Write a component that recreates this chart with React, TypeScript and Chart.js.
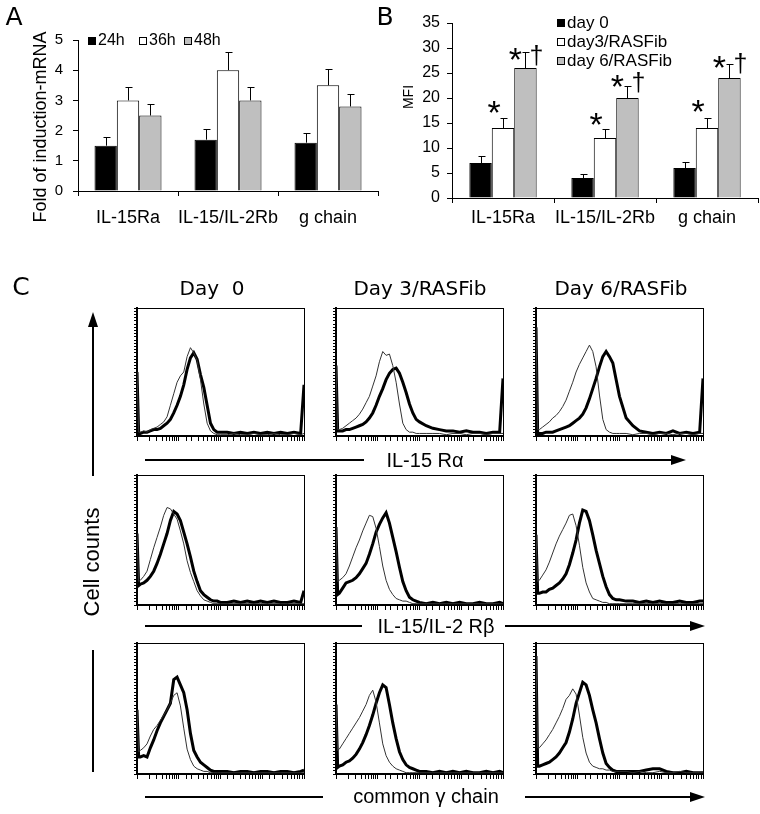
import { useEffect, useRef } from 'react'
import { Chart, registerables } from 'chart.js'

Chart.register(...registerables)

const SANS = '"Liberation Sans", Arial, sans-serif'
const VERDANA = '"DejaVu Sans", Verdana, sans-serif'
Chart.defaults.font.family = SANS
Chart.defaults.color = '#000'

// ---- panel A: fold induction of mRNA ----
const GENES = ['IL-15Ra', 'IL-15/IL-2Rb', 'g chain']
const MRNA_24H = [1.5, 1.7, 1.6]
const MRNA_36H = [3.0, 4.0, 3.5]
const MRNA_48H = [2.5, 3.0, 2.8]
const MRNA_24H_ERR = [0.3, 0.35, 0.33]
const MRNA_36H_ERR = [0.45, 0.6, 0.53]
const MRNA_48H_ERR = [0.38, 0.45, 0.42]

// ---- panel B: MFI ----
const MFI_DAY0 = [7, 4, 6]
const MFI_DAY3 = [14, 12, 14]
const MFI_DAY6 = [26, 20, 24]
const MFI_DAY0_ERR = [1.4, 0.8, 1.2]
const MFI_DAY3_ERR = [2.1, 1.8, 2.1]
const MFI_DAY6_ERR = [3.1, 2.4, 2.9]
// height (MFI units) where the significance marks sit
const STAR_DAY3_AT = [18, 15.6, 18.2]
const STAR_DAY6_AT = [28.6, 23.2, 27]

// ---- panel C: flow histograms (x = % of log axis, y = % of max count) ----
const HIST_X = [0, 1, 2, 4, 6, 8, 10, 12, 14, 16, 18, 20, 22, 24, 26, 28, 30, 32, 34, 36, 38, 40, 42, 44, 46, 48, 50,
  54, 58, 62, 66, 70, 74, 78, 82, 86, 90, 94, 98, 100]

const RA_DAY0_CTRL = [50, 3, 3, 4, 3, 5, 6, 7, 9, 11, 15, 24, 33, 42, 47, 50, 62, 69, 65, 59, 44, 25, 10, 4, 2, 1, 1,
  1, 2, 1, 1, 2, 1, 1, 2, 1, 1, 2, 1, 2]
const RA_DAY0_STAIN = [50, 2, 2, 3, 3, 4, 5, 5, 6, 8, 10, 13, 18, 24, 31, 40, 52, 61, 65, 60, 48, 38, 24, 10, 5, 3, 3,
  3, 2, 3, 2, 3, 2, 3, 2, 3, 2, 3, 2, 40]
const RA_DAY3_CTRL = [55, 5, 5, 6, 8, 10, 12, 14, 17, 21, 26, 31, 39, 47, 58, 66, 63, 64, 55, 42, 25, 10, 5, 3, 3, 2, 2,
  2, 2, 2, 1, 2, 2, 1, 2, 2, 1, 2, 2, 2]
const RA_DAY3_STAIN = [55, 4, 4, 4, 5, 5, 6, 7, 8, 9, 11, 14, 18, 24, 31, 37, 44, 49, 52, 53, 49, 42, 34, 25, 18, 13, 11,
  8, 6, 5, 4, 4, 3, 4, 3, 3, 2, 3, 3, 45]
const RA_DAY6_CTRL = [85, 5, 5, 7, 9, 11, 14, 16, 19, 23, 28, 35, 42, 50, 56, 61, 66, 71, 66, 54, 32, 13, 5, 3, 2, 2, 2,
  2, 1, 2, 2, 1, 2, 2, 1, 2, 2, 1, 2, 2]
const RA_DAY6_STAIN = [85, 2, 2, 2, 3, 3, 3, 4, 5, 6, 7, 8, 10, 12, 14, 17, 22, 29, 37, 45, 54, 62, 66, 62, 57, 44, 31,
  14, 8, 4, 3, 2, 3, 2, 4, 2, 3, 2, 3, 45]

const RB_DAY0_CTRL = [55, 18, 19, 22, 26, 35, 44, 52, 60, 69, 75, 74, 70, 66, 57, 47, 34, 25, 18, 11, 7, 4, 3, 2, 1, 1, 1,
  1, 1, 1, 1, 1, 1, 1, 1, 1, 1, 1, 1, 1]
const RB_DAY0_STAIN = [55, 15, 16, 17, 19, 22, 26, 32, 39, 47, 55, 65, 72, 70, 65, 56, 47, 37, 26, 18, 11, 8, 6, 4, 3, 3, 2,
  2, 3, 2, 3, 2, 3, 2, 3, 2, 2, 3, 2, 11]
const RB_DAY3_CTRL = [60, 18, 19, 21, 24, 30, 37, 44, 50, 57, 63, 69, 68, 59, 45, 30, 19, 12, 8, 5, 4, 3, 3, 2, 1, 1, 1,
  1, 1, 1, 1, 1, 1, 1, 1, 1, 1, 1, 1, 1]
const RB_DAY3_STAIN = [60, 8, 9, 13, 17, 18, 19, 21, 24, 28, 32, 39, 47, 56, 62, 67, 71, 63, 52, 41, 29, 18, 11, 6, 4, 3, 2,
  1, 2, 1, 2, 1, 2, 1, 1, 2, 1, 1, 2, 1]
const RB_DAY6_CTRL = [54, 18, 19, 23, 27, 33, 40, 47, 53, 58, 63, 69, 70, 61, 46, 29, 17, 10, 5, 4, 3, 2, 2, 1, 1, 1, 1,
  1, 1, 1, 1, 1, 1, 1, 1, 1, 1, 1, 1, 1]
const RB_DAY6_STAIN = [54, 9, 9, 10, 10, 12, 13, 15, 17, 20, 24, 31, 40, 50, 63, 73, 72, 65, 54, 42, 32, 22, 14, 8, 5, 4, 4,
  3, 3, 2, 3, 2, 3, 2, 2, 3, 2, 2, 3, 3]

const GC_DAY0_CTRL = [49, 17, 18, 20, 23, 29, 34, 37, 41, 45, 49, 54, 60, 62, 52, 35, 19, 11, 6, 4, 3, 2, 2, 1, 1, 1, 1,
  1, 1, 1, 1, 1, 1, 1, 1, 1, 1, 1, 1, 1]
const GC_DAY0_STAIN = [49, 13, 13, 14, 13, 20, 26, 33, 39, 44, 49, 54, 72, 74, 68, 62, 49, 31, 18, 13, 9, 7, 5, 3, 2, 2, 2,
  2, 1, 2, 2, 1, 2, 2, 1, 2, 2, 1, 2, 3]
const GC_DAY3_CTRL = [53, 18, 19, 23, 27, 31, 35, 39, 43, 48, 53, 60, 64, 55, 39, 23, 14, 9, 6, 4, 3, 2, 1, 1, 1, 1, 1,
  1, 1, 1, 1, 1, 1, 1, 1, 1, 1, 1, 1, 1]
const GC_DAY3_STAIN = [53, 5, 6, 7, 9, 10, 12, 15, 19, 24, 30, 37, 45, 54, 62, 68, 66, 53, 39, 27, 17, 11, 7, 5, 4, 3, 2,
  2, 1, 2, 1, 2, 1, 2, 1, 1, 2, 1, 2, 1]
const GC_DAY6_CTRL = [90, 20, 20, 23, 26, 30, 34, 39, 44, 50, 57, 60, 65, 61, 45, 28, 16, 9, 6, 5, 4, 4, 3, 3, 2, 2, 2,
  2, 1, 2, 1, 1, 2, 1, 1, 2, 1, 1, 1, 1]
const GC_DAY6_STAIN = [90, 6, 6, 7, 8, 9, 11, 13, 16, 20, 24, 32, 42, 54, 62, 70, 68, 60, 49, 39, 27, 16, 8, 5, 3, 2, 2,
  2, 2, 2, 3, 4, 4, 2, 1, 1, 2, 1, 1, 1]

// error bars drawn up from each bar top
const errorBars = {
  id: 'errorBars',
  afterDatasetsDraw(chart: any) {
    const { ctx } = chart
    const y = chart.scales.y
    ctx.save()
    ctx.strokeStyle = '#000'
    ctx.lineWidth = 1
    chart.data.datasets.forEach((ds: any, i: number) => {
      chart.getDatasetMeta(i).data.forEach((bar: any, j: number) => {
        const x = Math.round(bar.x) + 0.5
        const top = Math.round(y.getPixelForValue(ds.data[j] + ds.errors[j])) + 0.5
        ctx.beginPath()
        ctx.moveTo(x, bar.y)
        ctx.lineTo(x, top)
        ctx.moveTo(x - 3, top)
        ctx.lineTo(x + 4, top)
        ctx.stroke()
      })
    })
    ctx.restore()
  },
}

// small square legend placed inside the plot
const boxLegend = {
  id: 'boxLegend',
  afterDraw(chart: any, _args: any, opts: any) {
    if (!opts || !opts.items) return
    const { ctx, chartArea } = chart
    ctx.save()
    ctx.font = opts.font
    ctx.textBaseline = 'middle'
    chart.data.datasets.forEach((ds: any, i: number) => {
      const [dx, dy] = opts.items[i]
      const x = chartArea.left + dx
      const y = chartArea.top + dy
      const s = opts.box
      ctx.fillStyle = ds.backgroundColor
      ctx.fillRect(x, y - s / 2, s, s)
      ctx.strokeStyle = '#000'
      ctx.lineWidth = 1
      ctx.strokeRect(x + 0.5, y - s / 2 + 0.5, s - 1, s - 1)
      ctx.fillStyle = '#000'
      ctx.fillText(ds.label, x + s + 2, y)
    })
    ctx.restore()
  },
}

// * and † over the bars
const sigMarks = {
  id: 'sigMarks',
  afterDatasetsDraw(chart: any, _args: any, opts: any) {
    if (!opts || !opts.marks) return
    const { ctx } = chart
    const y = chart.scales.y
    ctx.save()
    ctx.fillStyle = '#000'
    ctx.textAlign = 'center'
    ctx.textBaseline = 'middle'
    opts.marks.forEach((m: any) => {
      ctx.font = m.font
      chart.getDatasetMeta(m.dataset).data.forEach((bar: any, j: number) => {
        ctx.fillText(m.text, bar.x + m.dx, y.getPixelForValue(m.at[j]) + m.dy)
      })
    })
    ctx.restore()
  },
}

const barDefaults = { borderColor: '#000', borderWidth: 1, barPercentage: 1 }

function mrnaConfig(): any {
  return {
    type: 'bar',
    data: {
      labels: GENES,
      datasets: [
        { label: '24h', data: MRNA_24H, errors: MRNA_24H_ERR, backgroundColor: '#000' },
        { label: '36h', data: MRNA_36H, errors: MRNA_36H_ERR, backgroundColor: '#fff' },
        { label: '48h', data: MRNA_48H, errors: MRNA_48H_ERR, backgroundColor: '#bfbfbf' },
      ],
    },
    options: {
      animation: false,
      responsive: false,
      events: [],
      datasets: { bar: { ...barDefaults, categoryPercentage: 0.67 } },
      layout: { padding: { left: 26, top: 40, right: 2, bottom: 9 } },
      plugins: {
        legend: { display: false },
        tooltip: { enabled: false },
        boxLegend: { font: `16px ${SANS}`, box: 8, items: [[10, 1], [61, 1], [106, 1]] },
      },
      scales: {
        x: {
          grid: { drawOnChartArea: false, tickLength: 5, color: '#000' },
          border: { color: '#000' },
          ticks: { font: { size: 18 }, padding: 11, maxRotation: 0, minRotation: 0, autoSkip: false },
          afterFit: (s: any) => { s.height = 40 },
        },
        y: {
          min: 0,
          max: 5,
          ticks: { stepSize: 1, font: { size: 15 }, padding: 10 },
          grid: { drawOnChartArea: false, tickLength: 5, color: '#000' },
          border: { color: '#000' },
          afterFit: (s: any) => { s.width = 52 },
        },
      },
    },
    plugins: [errorBars, boxLegend],
  }
}

function mfiConfig(): any {
  return {
    type: 'bar',
    data: {
      labels: GENES,
      datasets: [
        { label: 'day 0', data: MFI_DAY0, errors: MFI_DAY0_ERR, backgroundColor: '#000' },
        { label: 'day3/RASFib', data: MFI_DAY3, errors: MFI_DAY3_ERR, backgroundColor: '#fff' },
        { label: 'day 6/RASFib', data: MFI_DAY6, errors: MFI_DAY6_ERR, backgroundColor: '#bfbfbf' },
      ],
    },
    options: {
      animation: false,
      responsive: false,
      events: [],
      datasets: { bar: { ...barDefaults, categoryPercentage: 0.66 } },
      layout: { padding: { left: 16, top: 23, right: 2, bottom: 2 } },
      plugins: {
        legend: { display: false },
        tooltip: { enabled: false },
        boxLegend: { font: `17px ${SANS}`, box: 8, items: [[105, 0], [105, 19], [105, 38]] },
        sigMarks: {
          marks: [
            { dataset: 1, at: STAR_DAY3_AT, text: '*', dx: -9, dy: 7, font: `34px ${SANS}` },
            { dataset: 2, at: STAR_DAY6_AT, text: '*', dx: -10, dy: 7, font: `34px ${SANS}` },
            { dataset: 2, at: STAR_DAY6_AT, text: '\u2020', dx: 11, dy: 2, font: `25px ${SANS}` },
          ],
        },
      },
      scales: {
        x: {
          grid: { drawOnChartArea: false, tickLength: 5, color: '#000' },
          border: { color: '#000' },
          ticks: { font: { size: 18 }, padding: 4, maxRotation: 0, minRotation: 0, autoSkip: false },
          afterFit: (s: any) => { s.height = 40 },
        },
        y: {
          min: 0,
          max: 35,
          ticks: { stepSize: 5, font: { size: 16 }, padding: 7 },
          grid: { drawOnChartArea: false, tickLength: 5, color: '#000' },
          border: { color: '#000' },
          afterFit: (s: any) => { s.width = 56 },
        },
      },
    },
    plugins: [errorBars, boxLegend, sigMarks],
  }
}

function histConfig(ctrl: number[], stain: number[]): any {
  const pts = (arr: number[]) => HIST_X.map((x, i) => ({ x, y: arr[i] }))
  return {
    type: 'line',
    data: {
      datasets: [
        { data: pts(ctrl), borderColor: '#333', borderWidth: 1, pointRadius: 0, tension: 0 },
        { data: pts(stain), borderColor: '#000', borderWidth: 3, pointRadius: 0, tension: 0 },
      ],
    },
    options: {
      animation: false,
      responsive: false,
      events: [],
      layout: { padding: { top: 1, right: 1, left: 0, bottom: 0 } },
      plugins: { legend: { display: false }, tooltip: { enabled: false } },
      scales: {
        x: { type: 'linear', min: 0, max: 100, display: false },
        y: { type: 'linear', min: 0, max: 100, display: false },
        decades: {
          type: 'logarithmic', axis: 'x', position: 'bottom', min: 1, max: 10000,
          ticks: { display: false, autoSkip: false },
          grid: { drawOnChartArea: false, tickLength: 5, color: '#000' },
          border: { color: '#000', width: 2 },
        },
        counts: {
          type: 'linear', axis: 'y', position: 'left', min: 0, max: 100,
          ticks: { display: false, stepSize: 2.5, autoSkip: false },
          grid: { drawOnChartArea: false, tickLength: 3, color: '#000' },
          border: { color: '#000', width: 2 },
        },
        topEdge: {
          type: 'linear', axis: 'x', position: 'top', display: true,
          ticks: { display: false }, grid: { display: false, drawTicks: false },
          border: { color: '#000', width: 1 },
        },
        rightEdge: {
          type: 'linear', axis: 'y', position: 'right', display: true,
          ticks: { display: false }, grid: { display: false, drawTicks: false },
          border: { color: '#000', width: 1 },
        },
      },
    },
  }
}

function ChartBox({ make, left, top, width, height }: any) {
  const ref = useRef<HTMLCanvasElement | null>(null)
  useEffect(() => {
    if (!ref.current) return
    const chart = new Chart(ref.current.getContext('2d')!, make())
    return () => chart.destroy()
  }, [])
  return (
    <canvas
      ref={ref}
      width={width}
      height={height}
      style={{ position: 'absolute', left, top, width, height }}
    />
  )
}

function Label({ x, y, text, size, font = SANS, rotate = false }: any) {
  return (
    <div
      style={{
        position: 'absolute',
        left: x,
        top: y,
        transform: `translate(-50%, -50%)${rotate ? ' rotate(-90deg)' : ''}`,
        fontFamily: font,
        fontSize: size,
        lineHeight: 1,
        whiteSpace: 'pre',
        color: '#000',
      }}
    >
      {text}
    </div>
  )
}

const COLS = [137, 336, 536]
const ROWS = [
  { top: 308, h: 128, sets: [[RA_DAY0_CTRL, RA_DAY0_STAIN], [RA_DAY3_CTRL, RA_DAY3_STAIN], [RA_DAY6_CTRL, RA_DAY6_STAIN]] },
  { top: 475, h: 130, sets: [[RB_DAY0_CTRL, RB_DAY0_STAIN], [RB_DAY3_CTRL, RB_DAY3_STAIN], [RB_DAY6_CTRL, RB_DAY6_STAIN]] },
  { top: 643, h: 131, sets: [[GC_DAY0_CTRL, GC_DAY0_STAIN], [GC_DAY3_CTRL, GC_DAY3_STAIN], [GC_DAY6_CTRL, GC_DAY6_STAIN]] },
]
const BOX_W = 167

export default function App() {
  return (
    <div style={{ position: 'absolute', left: 0, top: 0, width: 760, height: 814, background: '#fff', overflow: 'hidden' }}>
      <ChartBox make={mrnaConfig} left={0} top={0} width={380} height={240} />
      <ChartBox make={mfiConfig} left={380} top={0} width={380} height={240} />

      {ROWS.map((row, r) =>
        row.sets.map(([ctrl, stain], c) => (
          <ChartBox
            key={`${r}-${c}`}
            make={() => histConfig(ctrl, stain)}
            left={COLS[c] - 3}
            top={row.top - 1}
            width={BOX_W + 4}
            height={row.h + 6}
          />
        ))
      )}

      <svg width={760} height={814} style={{ position: 'absolute', left: 0, top: 0, pointerEvents: 'none' }}>
        <g stroke="#000" strokeWidth={2}>
          <line x1={145} y1={460} x2={364} y2={460} />
          <line x1={484} y1={460} x2={674} y2={460} />
          <line x1={145} y1={626} x2={362} y2={626} />
          <line x1={505} y1={626} x2={692} y2={626} />
          <line x1={145} y1={797} x2={323} y2={797} />
          <line x1={525} y1={797} x2={692} y2={797} />
          <line x1={93} y1={476} x2={93} y2={324} />
          <line x1={93} y1={650} x2={93} y2={772} />
        </g>
        <g fill="#000">
          <polygon points="671,455 686,460 671,465" />
          <polygon points="690,621 705,626 690,631" />
          <polygon points="690,792 705,797 690,802" />
          <polygon points="88,327 93,312 98,327" />
        </g>
      </svg>

      <Label x={14} y={16} text="A" size={25} font={VERDANA} />
      <Label x={385} y={16} text="B" size={25} font={VERDANA} />
      <Label x={21} y={286} text="C" size={25} font={VERDANA} />
      <Label x={40} y={127} text="Fold of induction-mRNA" size={18} rotate />
      <Label x={408} y={97} text="MFI" size={14} rotate />
      <Label x={212} y={288} text="Day  0" size={20} font={VERDANA} />
      <Label x={420} y={288} text="Day 3/RASFib" size={20} font={VERDANA} />
      <Label x={621} y={288} text="Day 6/RASFib" size={20} font={VERDANA} />
      <Label x={425} y={460} text="IL-15 Rα" size={20} />
      <Label x={436} y={626} text="IL-15/IL-2 Rβ" size={20} />
      <Label x={426} y={796} text="common γ chain" size={20} />
      <Label x={92} y={562} text="Cell counts" size={22} rotate />
    </div>
  )
}
